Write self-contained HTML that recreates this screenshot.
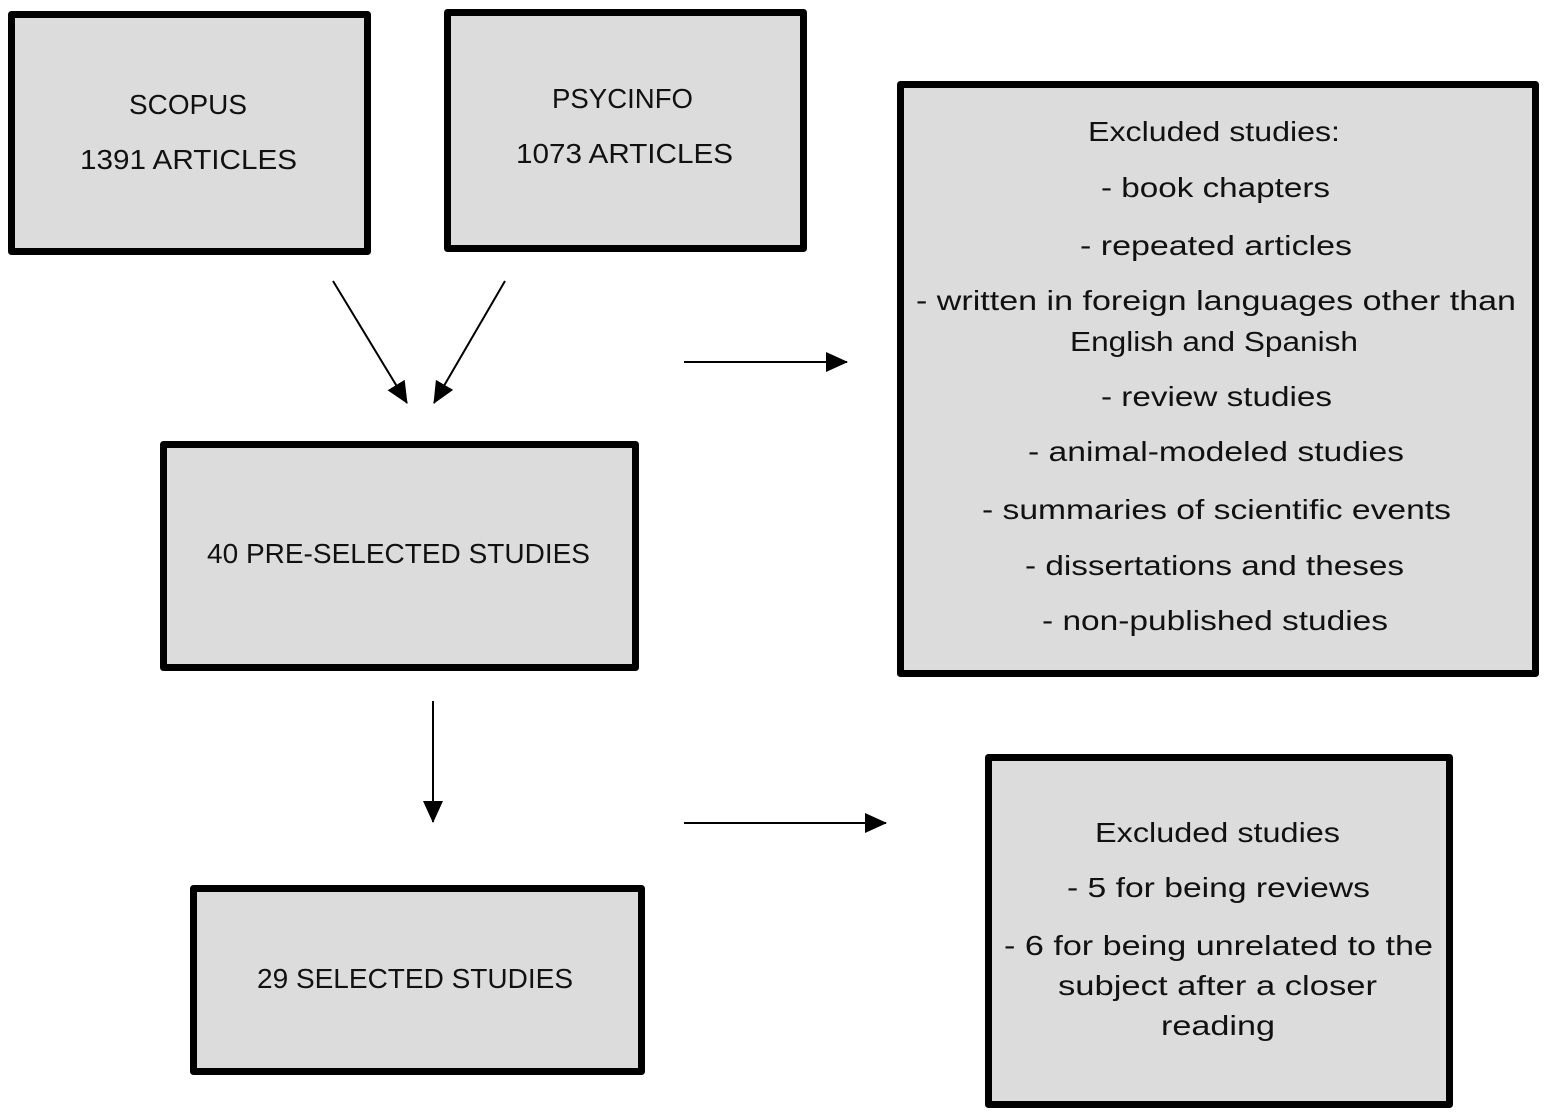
<!DOCTYPE html>
<html><head><meta charset="utf-8"><style>html,body{margin:0;padding:0;background:#fff}svg{display:block}</style></head>
<body>
<svg width="1547" height="1116" viewBox="0 0 1547 1116" xmlns="http://www.w3.org/2000/svg">
<defs><marker id="a" markerWidth="10" markerHeight="10" refX="9" refY="5" orient="auto" markerUnits="userSpaceOnUse" viewBox="0 0 10 10"><path d="M0,0 L10,5 L0,10 z" fill="#000"/></marker>
<marker id="b" markerWidth="22" markerHeight="20" refX="21" refY="10" orient="auto" markerUnits="userSpaceOnUse"><path d="M0,0 L22,10 L0,20 z" fill="#000"/></marker></defs>
<g fill="#dcdcdc" stroke="#000" stroke-width="7" stroke-linejoin="round">
<rect x="11.5" y="14.5" width="356" height="237"/>
<rect x="447.5" y="12.5" width="356" height="236"/>
<rect x="900.5" y="84.5" width="635" height="589"/>
<rect x="163.5" y="444.5" width="472" height="223"/>
<rect x="193.5" y="888.5" width="448" height="183"/>
<rect x="988.5" y="757.5" width="461" height="347"/>
</g>
<g stroke="#000" stroke-width="2">
<line x1="333" y1="281" x2="407" y2="403" marker-end="url(#b)"/>
<line x1="505" y1="281" x2="434" y2="403" marker-end="url(#b)"/>
<line x1="684" y1="362" x2="847" y2="362" marker-end="url(#b)"/>
<line x1="433" y1="701" x2="433" y2="822" marker-end="url(#b)"/>
<line x1="684" y1="823" x2="886" y2="823" marker-end="url(#b)"/>
</g>
<g font-family="Liberation Sans, sans-serif" font-size="28" fill="#111" lengthAdjust="spacingAndGlyphs">
<text x="129" y="114" textLength="118" lengthAdjust="spacingAndGlyphs">SCOPUS</text>
<text x="80" y="169" textLength="217" lengthAdjust="spacingAndGlyphs">1391 ARTICLES</text>
<text x="552" y="108" textLength="141" lengthAdjust="spacingAndGlyphs">PSYCINFO</text>
<text x="516" y="163" textLength="217" lengthAdjust="spacingAndGlyphs">1073 ARTICLES</text>
<text x="207" y="563" textLength="383" lengthAdjust="spacingAndGlyphs">40 PRE-SELECTED  STUDIES</text>
<text x="257" y="988" textLength="316" lengthAdjust="spacingAndGlyphs">29 SELECTED  STUDIES</text>
<text x="1088" y="141" textLength="252" lengthAdjust="spacingAndGlyphs">Excluded studies:</text>
<text x="1101" y="197" textLength="229" lengthAdjust="spacingAndGlyphs">- book chapters</text>
<text x="1080" y="255" textLength="272" lengthAdjust="spacingAndGlyphs">- repeated articles</text>
<text x="916" y="310" textLength="600" lengthAdjust="spacingAndGlyphs">- written  in foreign languages  other than</text>
<text x="1070" y="351" textLength="288" lengthAdjust="spacingAndGlyphs">English and  Spanish</text>
<text x="1101" y="406" textLength="231" lengthAdjust="spacingAndGlyphs">- review studies</text>
<text x="1028" y="461" textLength="376" lengthAdjust="spacingAndGlyphs">- animal-modeled  studies</text>
<text x="982" y="519" textLength="469" lengthAdjust="spacingAndGlyphs">- summaries  of scientific events</text>
<text x="1025" y="575" textLength="379" lengthAdjust="spacingAndGlyphs">- dissertations  and theses</text>
<text x="1042" y="630" textLength="346" lengthAdjust="spacingAndGlyphs">- non-published studies</text>
<text x="1095" y="842" textLength="245" lengthAdjust="spacingAndGlyphs">Excluded studies</text>
<text x="1067" y="897" textLength="303" lengthAdjust="spacingAndGlyphs">- 5 for being reviews</text>
<text x="1004" y="955" textLength="429" lengthAdjust="spacingAndGlyphs">- 6 for being unrelated to the</text>
<text x="1058" y="995" textLength="319" lengthAdjust="spacingAndGlyphs">subject  after a closer</text>
<text x="1161" y="1035" textLength="114" lengthAdjust="spacingAndGlyphs">reading</text>
</g>
</svg>
</body></html>
